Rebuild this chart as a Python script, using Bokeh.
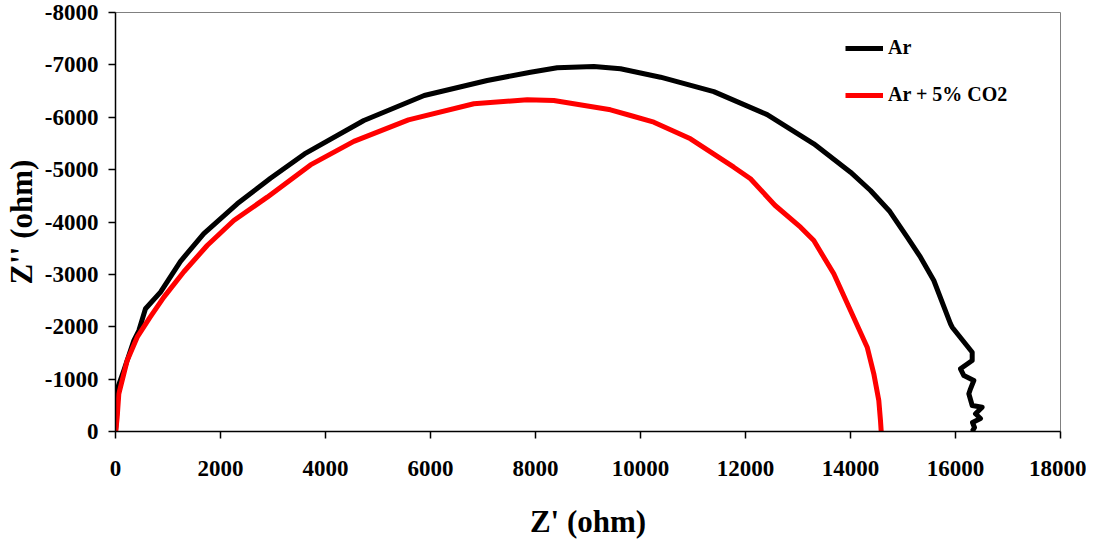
from bokeh.plotting import figure
from bokeh.models import Range1d, FixedTicker, Legend, LegendItem
from bokeh.embed import file_html
from bokeh.resources import INLINE

# Data (Z' in ohm, Z'' in ohm)
ar_zr = [0, 32, 57, 158, 349, 445, 571, 857, 1238, 1682, 2318, 2952, 3600, 4730, 5880,
         7080, 7905, 8413, 9111, 9619, 10381, 11396, 12413, 13301, 14000, 14381,
         14750, 15080, 15333, 15587, 15905, 15937, 16318, 16318, 16095, 16159, 16349,
         16286, 16254, 16318, 16508, 16381, 16476, 16324, 16362, 16318]
ar_zi = [0, -464, -878, -1165, -1737, -1928, -2343, -2660, -3250, -3780, -4347, -4835,
         -5300, -5938, -6415, -6702, -6860, -6944, -6969, -6925, -6765, -6490, -6050,
         -5493, -4951, -4601, -4200, -3710, -3328, -2883, -2056, -1991, -1514,
         -1356, -1197, -1069, -974, -815, -720, -496, -464, -338, -248, -172, -76, 0]

co2_zr = [-32, -10, 0, 32, 63, 223, 413, 650, 921, 1302, 1746, 2253, 2890, 3714,
          4540, 5580, 6825, 7842, 8349, 9429, 9810, 10254, 10952, 11777, 12095, 12560,
          13048, 13301, 13492, 13682, 14000, 14318, 14444, 14539, 14571, 14585]
co2_zi = [248, 134, 44, -273, -720, -1356, -1800, -2170, -2565, -3050, -3551,
          -4029, -4474, -5090, -5540, -5950, -6257, -6333, -6320, -6142, -6033, -5906,
          -5588, -5046, -4825, -4320, -3901, -3647, -3328, -3011, -2310, -1610, -1102,
          -592, -210, 0]

x_ticks = [0, 2000, 4000, 6000, 8000, 10000, 12000, 14000, 16000, 18000]
y_ticks = [0, -1000, -2000, -3000, -4000, -5000, -6000, -7000, -8000]
series_names = ["Ar", "Ar + 5% CO2"]

FONT = "Liberation Serif"

p = figure(frame_width=945, frame_height=419, output_backend="svg", toolbar_location=None,
           x_range=Range1d(0, 18000), y_range=Range1d(0, -8000),
           min_border_left=100, min_border_top=12, min_border_right=26, min_border_bottom=100)

p.grid.visible = False
p.outline_line_color = "#808080"
p.outline_line_width = 1
p.background_fill_color = "white"
p.border_fill_color = "white"

r1 = p.line(ar_zr, ar_zi, line_color="black", line_width=5, line_join="round")
r2 = p.line(co2_zr, co2_zi, line_color="#ff0000", line_width=5, line_join="round")

p.xaxis.ticker = FixedTicker(ticks=x_ticks)
p.yaxis.ticker = FixedTicker(ticks=y_ticks)
p.xaxis.major_label_overrides = {t: str(t) for t in x_ticks}
p.yaxis.major_label_overrides = {t: str(t) for t in y_ticks}

for ax in (p.xaxis[0], p.yaxis[0]):
    ax.axis_line_color = "black"
    ax.axis_line_width = 1.5
    ax.major_tick_line_color = "black"
    ax.major_tick_line_width = 1.5
    ax.major_tick_out = 7
    ax.major_tick_in = 0
    ax.minor_tick_line_color = None
    ax.major_label_text_font = FONT
    ax.major_label_text_font_style = "bold"
    ax.major_label_text_font_size = "23px"
    ax.major_label_text_color = "black"
    ax.axis_label_text_font = FONT
    ax.axis_label_text_font_style = "bold"
    ax.axis_label_text_font_size = "31px"
    ax.axis_label_text_color = "black"

p.xaxis.axis_label = "Z' (ohm)"
p.yaxis.axis_label = "Z'' (ohm)"
p.xaxis.major_label_standoff = 22
p.yaxis.major_label_standoff = 10
p.xaxis.axis_label_standoff = 25
p.yaxis.axis_label_standoff = 3

legend = Legend(items=[LegendItem(label=series_names[0], renderers=[r1]),
                       LegendItem(label=series_names[1], renderers=[r2])],
                location=(730, 325), orientation="vertical")
legend.label_text_font = FONT
legend.label_text_font_style = "bold"
legend.label_text_font_size = "20px"
legend.label_text_color = "black"
legend.glyph_width = 38
legend.glyph_height = 20
legend.label_height = 20
legend.spacing = 24
legend.label_standoff = 5
legend.padding = 0
legend.margin = 0
legend.border_line_color = None
legend.background_fill_alpha = 0
p.add_layout(legend, "center")

open("out.html", "w").write(file_html(p, INLINE))
